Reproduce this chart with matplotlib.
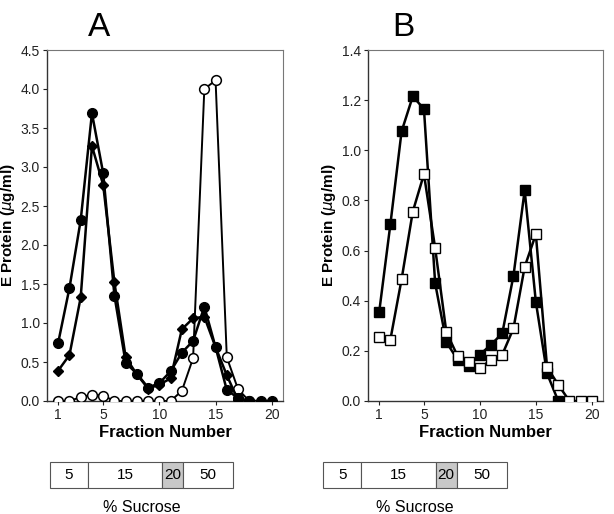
import numpy as np
import matplotlib
matplotlib.use("Agg")
import matplotlib.pyplot as plt

plt.rcParams['font.family'] = ['Liberation Sans', 'DejaVu Sans']

fractions = list(range(1, 21))

# panel A
a_filled_circle = [0.75, 1.45, 2.32, 3.69, 2.92, 1.35, 0.49, 0.35, 0.17, 0.23,
                   0.38, 0.62, 0.77, 1.21, 0.69, 0.14, 0.04, 0.0, 0.0, 0.0]
a_diamond = [0.39, 0.59, 1.33, 3.27, 2.77, 1.52, 0.56, 0.34, 0.16, 0.21,
             0.29, 0.92, 1.06, 1.08, 0.69, 0.33, 0.01, 0.0]
a_open_circle = [0.0, 0.0, 0.05, 0.08, 0.07, 0.0, 0.0, 0.0, 0.0, 0.0,
                 0.0, 0.13, 0.55, 4.0, 4.11, 0.56, 0.15, 0.0]

# panel B
b_filled_square = [0.355, 0.705, 1.075, 1.215, 1.165, 0.47, 0.235, 0.165, 0.14, 0.185,
                   0.225, 0.27, 0.50, 0.84, 0.395, 0.11, 0.0]
b_open_square = [0.255, 0.245, 0.485, 0.755, 0.905, 0.61, 0.275, 0.18, 0.155, 0.13,
                 0.165, 0.185, 0.29, 0.535, 0.665, 0.135, 0.065, 0.0, 0.0, 0.0]

sucrose_labels = ["5", "15", "20", "50"]
sucrose_widths = [38, 74, 21, 50]
sucrose_colors = ["white", "white", "#c8c8c8", "white"]

W, H = 614, 514
fig = plt.figure(figsize=(W / 100, H / 100), dpi=100)


def px_axes(x0, y0, x1, y1):
    return fig.add_axes([x0 / W, 1 - y1 / H, (x1 - x0) / W, (y1 - y0) / H])


def style_axes(ax, ymax, ystep, fmt):
    ax.set_xlim(0.0, 21.0)
    ax.set_ylim(0, ymax)
    ax.set_xticks([1, 5, 10, 15, 20])
    ax.set_yticks(np.arange(0, ymax + 1e-9, ystep))
    ax.set_yticklabels([fmt.format(v) for v in np.arange(0, ymax + 1e-9, ystep)])
    ax.tick_params(labelsize=10, length=3, width=0.8, colors="#222222", pad=2)
    for s in ["top", "right"]:
        ax.spines[s].set_color("#777777")
        ax.spines[s].set_linewidth(0.8)
    for s in ["left", "bottom"]:
        ax.spines[s].set_color("#333333")
        ax.spines[s].set_linewidth(1.0)
    ax.set_xlabel("Fraction Number", fontsize=12, fontweight="bold", labelpad=2)
    ax.set_ylabel("E Protein ($\\mu$g/ml)", fontsize=11, fontweight="bold", labelpad=3)


lw = 1.8
axA = px_axes(47, 50, 283, 401)
axA.plot(fractions[:len(a_open_circle)], a_open_circle, color="black", lw=1.4,
         marker="o", ms=7, mfc="white", mec="black", mew=1.1, zorder=3)
axA.plot(fractions[:len(a_diamond)], a_diamond, color="black", lw=lw,
         marker="D", ms=5.5, mfc="black", mec="black", zorder=4)
axA.plot(fractions, a_filled_circle, color="black", lw=lw,
         marker="o", ms=7, mfc="black", mec="black", zorder=5)
style_axes(axA, 4.5, 0.5, "{:.1f}")
axA.set_title("A", fontsize=24, x=0.22, pad=10)

axB = px_axes(368, 50, 603, 401)
axB.plot(fractions[:len(b_filled_square)], b_filled_square, color="black", lw=lw,
         marker="s", ms=6.5, mfc="black", mec="black", zorder=4)
axB.plot(fractions, b_open_square, color="black", lw=lw,
         marker="s", ms=7.5, mfc="white", mec="black", mew=1.0, zorder=5)
style_axes(axB, 1.4, 0.2, "{:.1f}")
axB.set_title("B", fontsize=24, x=0.15, pad=10)


def sucrose_bar(x0, x1):
    ax = px_axes(x0, 462, x1, 488)
    left = np.cumsum([0] + sucrose_widths[:-1])
    bars = ax.barh(0, sucrose_widths, left=left, height=1, color=sucrose_colors,
                   edgecolor="#555555", linewidth=0.8)
    for b in bars:
        b.set_clip_on(False)
    for l, w, t in zip(left, sucrose_widths, sucrose_labels):
        ax.text(l + w / 2, 0, t, ha="center", va="center", fontsize=11)
    ax.set_xlim(0, sum(sucrose_widths))
    ax.set_ylim(-0.5, 0.5)
    ax.axis("off")
    ax.text(0.5, -0.75, "% Sucrose", transform=ax.transAxes, ha="center",
            va="center", fontsize=11.5)


sucrose_bar(50, 233)
sucrose_bar(323, 507)

fig.savefig("out.png", dpi=100)
plt.close(fig)
